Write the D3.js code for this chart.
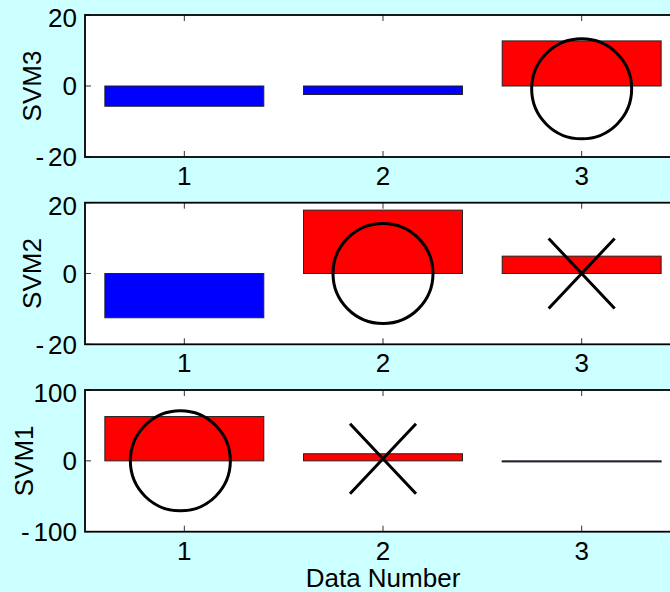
<!DOCTYPE html>
<html>
<head>
<meta charset="utf-8">
<script src="https://cdn.jsdelivr.net/npm/d3@7"></script>
<style>
  html, body { margin: 0; padding: 0; background: #ccffff; }
  svg { display: block; }
  text { font-family: "Liberation Sans", Arial, sans-serif; fill: #000; }
</style>
</head>
<body>
<svg id="chart" width="670" height="592"></svg>
<script>
// ---- data ----
const categories = [1, 2, 3];
const panelNames = ["SVM3", "SVM2", "SVM1"];
const svm3Values = [-5.7, -2.4, 12.7];
const svm2Values = [-12.5, 17.9, 4.9];
const svm1Values = [62.5, 10, -1.5];
const svm3Ticks = [-20, 0, 20];
const svm2Ticks = [-20, 0, 20];
const svm1Ticks = [-100, 0, 100];
const svm3Circles = [{x: 3, y: -0.8}];
const svm2Circles = [{x: 2, y: 0}];
const svm1Circles = [{x: 0.98, y: 0}];
const svm3Crosses = [];
const svm2Crosses = [{x: 3, y: 0}];
const svm1Crosses = [{x: 2, y: 3}];
const xLabel = "Data Number";

// ---- layout ----
const svg = d3.select("#chart");
const left = 85, right = 681;
const panels = [
  {name: panelNames[0], values: svm3Values, ticks: svm3Ticks, circles: svm3Circles, crosses: svm3Crosses, top: 15, bottom: 157, labelX: 41},
  {name: panelNames[1], values: svm2Values, ticks: svm2Ticks, circles: svm2Circles, crosses: svm2Crosses, top: 202.7, bottom: 344.3, labelX: 41},
  {name: panelNames[2], values: svm1Values, ticks: svm1Ticks, circles: svm1Circles, crosses: svm1Crosses, top: 390, bottom: 531.7, labelX: 33}
];

const x = d3.scaleLinear().domain([0.5, 3.5]).range([left, right]);
const barW = x(1.4) - x(0.6);
const fontSize = 26;

panels.forEach((p, i) => {
  const ext = d3.extent(p.ticks);
  const y = d3.scaleLinear().domain(ext).range([p.bottom, p.top]);
  const g = svg.append("g");

  g.append("rect")
    .attr("x", left).attr("y", p.top)
    .attr("width", right - left).attr("height", p.bottom - p.top)
    .attr("fill", "#fff");

  g.selectAll("rect.bar").data(categories).join("rect")
    .attr("class", "bar")
    .attr("x", d => x(d - 0.4))
    .attr("width", barW)
    .attr("y", (d, j) => y(Math.max(0, p.values[j])))
    .attr("height", (d, j) => Math.abs(y(p.values[j]) - y(0)))
    .attr("fill", (d, j) => p.values[j] >= 0 ? "#ff0000" : "#0000ff")
    .attr("stroke", "#222")
    .attr("stroke-width", 1);

  g.selectAll("circle.mk").data(p.circles).join("circle")
    .attr("class", "mk")
    .attr("cx", d => x(d.x)).attr("cy", d => y(d.y))
    .attr("r", 50)
    .attr("fill", "none").attr("stroke", "#000").attr("stroke-width", 3);

  p.crosses.forEach(d => {
    const cx = x(d.x), cy = y(d.y), hw = 33, hh = 35;
    g.append("path")
      .attr("d", `M${cx - hw},${cy - hh}L${cx + hw},${cy + hh}M${cx - hw},${cy + hh}L${cx + hw},${cy - hh}`)
      .attr("stroke", "#000").attr("stroke-width", 3).attr("fill", "none");
  });

  const tl = 6;
  categories.forEach(c => {
    g.append("line").attr("x1", x(c)).attr("x2", x(c))
      .attr("y1", p.bottom).attr("y2", p.bottom - tl)
      .attr("stroke", "#333").attr("stroke-width", 1);
    g.append("line").attr("x1", x(c)).attr("x2", x(c))
      .attr("y1", p.top).attr("y2", p.top + tl)
      .attr("stroke", "#333").attr("stroke-width", 1);
  });
  p.ticks.forEach(t => {
    g.append("line").attr("x1", left).attr("x2", left + tl)
      .attr("y1", y(t)).attr("y2", y(t))
      .attr("stroke", "#333").attr("stroke-width", 1);
  });

  g.append("rect")
    .attr("x", left).attr("y", p.top)
    .attr("width", right - left).attr("height", p.bottom - p.top)
    .attr("fill", "none").attr("stroke", "#000").attr("stroke-width", 1.8);

  p.ticks.forEach((t, k) => {
    const ty = y(t) + (k === p.ticks.length - 1 ? 3 : 0);
    const txt = g.append("text")
      .attr("x", left - 8).attr("y", ty)
      .attr("dy", "0.36em")
      .attr("text-anchor", "end")
      .attr("font-size", fontSize);
    if (t < 0) {
      txt.append("tspan").text("-");
      txt.append("tspan").attr("dx", 4).text(String(Math.abs(t)));
    } else {
      txt.text(String(t));
    }
  });

  categories.forEach(c => {
    g.append("text")
      .attr("x", x(c)).attr("y", p.bottom + 28)
      .attr("text-anchor", "middle")
      .attr("font-size", fontSize)
      .text(String(c));
  });

  g.append("text")
    .attr("transform", `translate(${p.labelX},${(p.top + p.bottom) / 2}) rotate(-90)`)
    .attr("text-anchor", "middle")
    .attr("font-size", fontSize)
    .text(p.name);
});

svg.append("text")
  .attr("x", x(2)).attr("y", 587)
  .attr("text-anchor", "middle")
  .attr("font-size", fontSize)
  .text(xLabel);
</script>
</body>
</html>
